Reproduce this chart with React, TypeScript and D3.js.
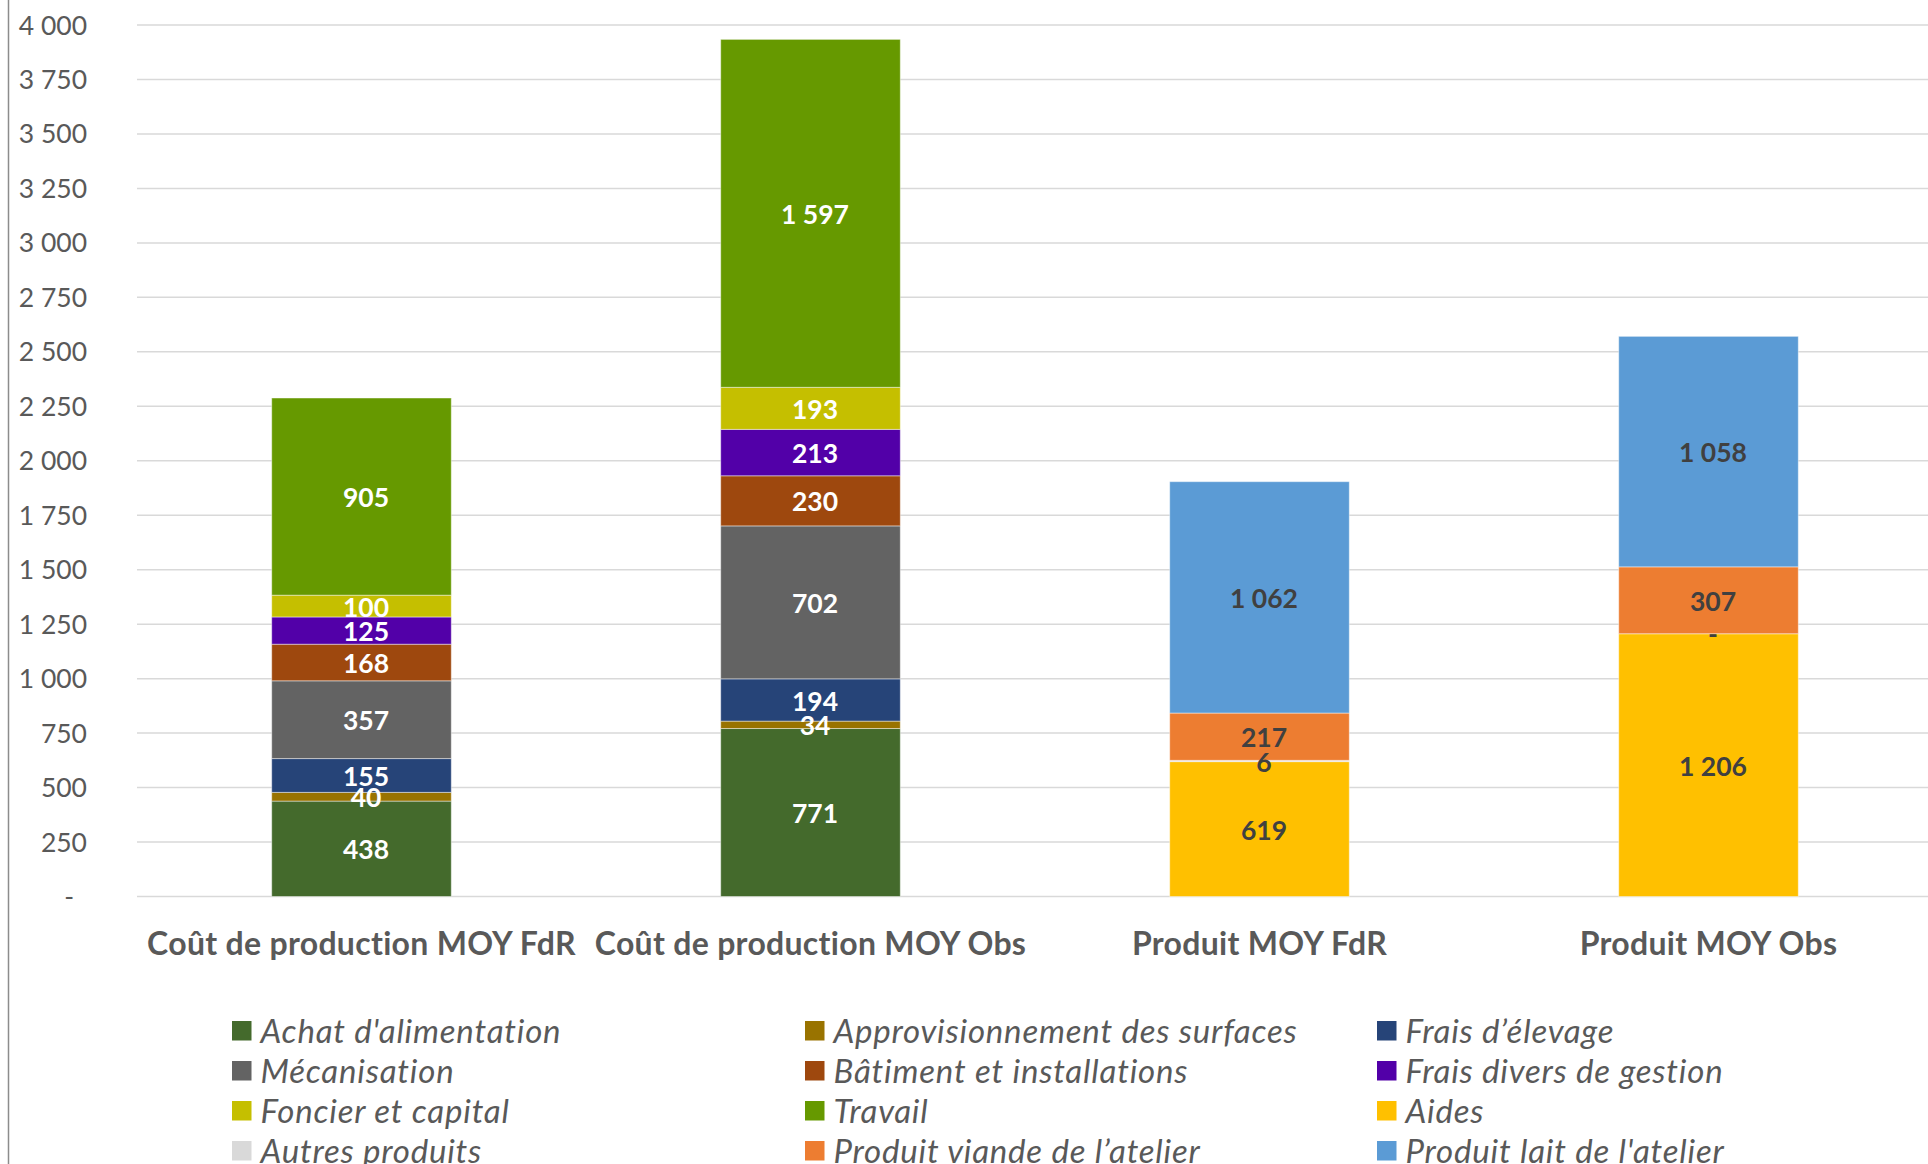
import React from "react";
import * as d3 from "d3";

const categories = [
  "Coût de production MOY FdR",
  "Coût de production MOY Obs",
  "Produit MOY FdR",
  "Produit MOY Obs",
];

const seriesNames = [
  "Achat d'alimentation",
  "Approvisionnement des surfaces",
  "Frais d’élevage",
  "Mécanisation",
  "Bâtiment et installations",
  "Frais divers de gestion",
  "Foncier et capital",
  "Travail",
  "Aides",
  "Autres produits",
  "Produit viande de l’atelier",
  "Produit lait de l'atelier",
];

const seriesColors = [
  "#446a2c",
  "#997300",
  "#264478",
  "#636363",
  "#9e480e",
  "#5200a8",
  "#c5bf00",
  "#669900",
  "#ffc000",
  "#d9d9d9",
  "#ed7d31",
  "#5b9bd5",
];

// values per series, one per category (null = no value)
const achat = [438, 771, null, null];
const appro = [40, 34, null, null];
const fraisElevage = [155, 194, null, null];
const mecanisation = [357, 702, null, null];
const batiment = [168, 230, null, null];
const fraisDivers = [125, 213, null, null];
const foncier = [100, 193, null, null];
const travail = [905, 1597, null, null];
const aides = [null, null, 619, 1206];
const autres = [null, null, 6, 0];
const viande = [null, null, 217, 307];
const lait = [null, null, 1062, 1058];

const seriesValues = [
  achat, appro, fraisElevage, mecanisation, batiment, fraisDivers,
  foncier, travail, aides, autres, viande, lait,
];

// label text colour per series (white on cost series, dark on product series)
const labelDark = [false, false, false, false, false, false, false, false, true, true, true, true];

const yTicks = [0, 250, 500, 750, 1000, 1250, 1500, 1750, 2000, 2250, 2500, 2750, 3000, 3250, 3500, 3750, 4000];

const W = 1928;
const H = 1164;
const FONT = "Lato, 'Open Sans', sans-serif";

const fmt = (v: number) => {
  if (v === 0) return "-";
  return d3.format(",.0f")(v).replace(/,/g, " ");
};

export default function App() {
  const y = d3.scaleLinear().domain([0, 4000]).range([896.5, 25]);
  const x = d3
    .scaleBand<string>()
    .domain(categories)
    .range([137, 1933])
    .paddingInner(0.6)
    .paddingOuter(0.3);

  const rows = categories.map((c, ci) => {
    const r: any = { cat: c };
    seriesNames.forEach((s, si) => {
      r[s] = seriesValues[si][ci] ?? 0;
    });
    return r;
  });
  const stacked = d3.stack<any>().keys(seriesNames)(rows);

  const legendCols = [232, 805, 1377];
  const legendRow0 = 1043;
  const legendRowStep = 40;

  return (
    <svg
      width={W}
      height={H}
      style={{ position: "absolute", left: 0, top: 0, background: "#fff" }}
      fontFamily={FONT}
    >
      <rect x={0} y={0} width={W} height={H} fill="#fff" />
      <line x1={8.5} x2={8.5} y1={0} y2={H} stroke="#8c8c8c" strokeWidth={1.5} />
      {/* gridlines */}
      {yTicks.map((t) => (
        <line
          key={t}
          x1={137}
          x2={W}
          y1={y(t)}
          y2={y(t)}
          stroke="#d9d9d9"
          strokeWidth={1.5}
        />
      ))}
      {/* y tick labels */}
      {yTicks.map((t) => (
        <text
          key={"l" + t}
          x={t === 0 ? 74 : 87}
          y={y(t)}
          dy="0.36em"
          textAnchor="end"
          fontSize={26.5}
          fill="#595959"
        >
          {fmt(t)}
        </text>
      ))}
      {/* bars */}
      {stacked.map((layer, si) =>
        layer.map((d, ci) => {
          const v = seriesValues[si][ci];
          if (v === null || v === undefined) return null;
          const y0 = y(d[0]);
          const y1 = y(d[1]);
          return (
            <rect
              key={si + "-" + ci}
              x={x(categories[ci])}
              y={y1}
              width={x.bandwidth()}
              height={Math.max(0, y0 - y1)}
              fill={seriesColors[si]}
              stroke="rgba(255,255,255,0.45)"
              strokeWidth={1}
            />
          );
        })
      )}
      {/* data labels */}
      {stacked.map((layer, si) =>
        layer.map((d, ci) => {
          const v = seriesValues[si][ci];
          if (v === null || v === undefined) return null;
          const cy = y((d[0] + d[1]) / 2);
          const cx = (x(categories[ci]) as number) + x.bandwidth() / 2;
          return (
            <text
              key={"t" + si + "-" + ci}
              x={cx + 4.5}
              y={cy}
              dy="0.4em"
              textAnchor="middle"
              fontSize={26.5}
              fontWeight="bold"
              fill={labelDark[si] ? "#404040" : "#ffffff"}
            >
              {fmt(v)}
            </text>
          );
        })
      )}
      {/* category labels */}
      {categories.map((c) => (
        <text
          key={c}
          x={(x(c) as number) + x.bandwidth() / 2}
          y={955}
          textAnchor="middle"
          fontSize={32}
          letterSpacing={0.3}
          fontWeight="bold"
          fill="#595959"
        >
          {c}
        </text>
      ))}
      {/* legend */}
      {seriesNames.map((s, i) => {
        const col = i % 3;
        const row = Math.floor(i / 3);
        const lx = legendCols[col];
        const ly = legendRow0 + row * legendRowStep;
        return (
          <g key={"lg" + s}>
            <rect x={lx} y={ly - 22} width={19.5} height={19.5} fill={seriesColors[i]} />
            <text
              x={lx + 28.5}
              y={ly}
              fontSize={33}
              letterSpacing={0.8}
              fontStyle="italic"
              fill="#595959"
            >
              {s}
            </text>
          </g>
        );
      })}
    </svg>
  );
}
